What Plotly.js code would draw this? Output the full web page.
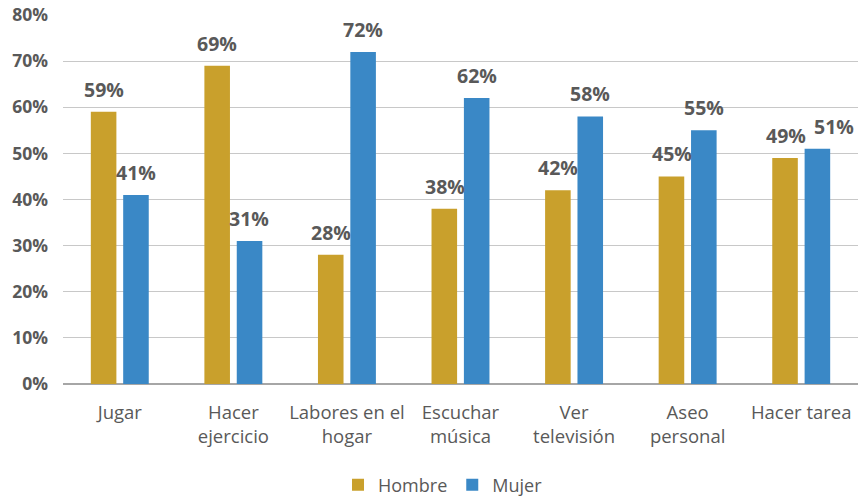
<!DOCTYPE html>
<html>
<head>
<meta charset="utf-8">
<script src="https://cdn.plot.ly/plotly-3.0.1.min.js"></script>
<style>html,body{margin:0;padding:0;background:#fff;}#chart{width:860px;height:499px;}</style>
</head>
<body>
<div id="chart"></div>
<script>
const categories = ["Jugar", "Hacer<br>ejercicio", "Labores en el<br>hogar", "Escuchar<br>música", "Ver<br>televisión", "Aseo<br>personal", "Hacer tarea"];
const hombre = [0.59, 0.69, 0.28, 0.38, 0.42, 0.45, 0.49];
const mujer = [0.41, 0.31, 0.72, 0.62, 0.58, 0.55, 0.51];
const seriesNames = ["Hombre", "Mujer"];
const colors = ["#C9A02C", "#3A88C6"];
const yTicks = [0, 0.1, 0.2, 0.3, 0.4, 0.5, 0.6, 0.7, 0.8];
const yTickLabels = ["0%", "10%", "20%", "30%", "40%", "50%", "60%", "70%", "80%"];

const FONT = "Open Sans, sans-serif";
const GREY = "#595959";

const traces = [hombre, mujer].map((vals, i) => ({
  type: "bar",
  name: seriesNames[i],
  x: categories,
  y: vals,
  marker: { color: colors[i] },
  hoverinfo: "skip"
}));

// Data labels above each bar; when the two labels of a group are close in
// height they would collide, so they are nudged apart horizontally.
const annotations = [];
const series = [hombre, mujer];
series.forEach((vals, i) => {
  vals.forEach((v, j) => {
    let xs = i === 0 ? -16 : 16;
    if (Math.abs(hombre[j] - mujer[j]) < 0.05) xs = i === 0 ? -15 : 33;
    annotations.push({
      x: categories[j], y: v, xref: "x", yref: "y",
      text: Math.round(v * 100) + "%",
      showarrow: false,
      xanchor: "center", yanchor: "bottom",
      xshift: xs, yshift: 7,
      font: { family: FONT, size: 19.5, color: GREY, weight: "bold" }
    });
  });
});

const layout = {
  width: 860, height: 499,
  margin: { l: 63, r: 2, t: 15, b: 114.5, autoexpand: false },
  paper_bgcolor: "#fff", plot_bgcolor: "#fff",
  barmode: "group",
  bargap: 0.43,
  bargroupgap: 0.21,
  font: { family: FONT, color: GREY },
  xaxis: {
    type: "category",
    tickfont: { family: FONT, size: 18.5, color: GREY },
    showgrid: false,
    ticks: "",
    showline: false,
    automargin: false,
    ticklabelstandoff: 15,
    fixedrange: true
  },
  yaxis: {
    range: [0, 0.8],
    tickvals: yTicks,
    ticktext: yTickLabels,
    tickfont: { family: FONT, size: 17.5, color: GREY, weight: "bold" },
    showgrid: true,
    gridcolor: "#C8C8C8",
    gridwidth: 1,
    zeroline: true,
    zerolinecolor: "#A6A6A6",
    zerolinewidth: 1.5,
    showline: false,
    ticks: "",
    automargin: false,
    ticklabelstandoff: 14,
    fixedrange: true
  },
  legend: {
    orientation: "h",
    x: 0.478, xanchor: "center",
    y: -0.274, yanchor: "middle",
    font: { family: FONT, size: 18, color: GREY },
    itemwidth: 30,
    traceorder: "normal"
  },
  annotations: annotations,
  showlegend: true
};

Plotly.newPlot("chart", traces, layout, { staticPlot: true, displayModeBar: false });
</script>
</body>
</html>
